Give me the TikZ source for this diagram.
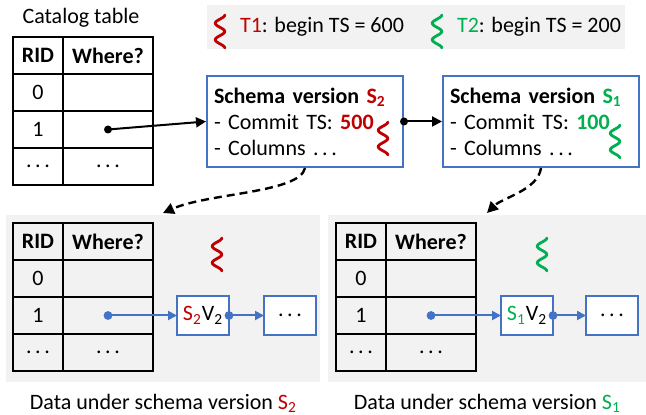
\documentclass[tikz,border=0pt]{standalone}
\usepackage{fontspec}
\setmainfont{Carlito}
\usetikzlibrary{positioning,arrows.meta}
\definecolor{tred}{HTML}{C00000}
\definecolor{tgreen}{HTML}{00B050}
\definecolor{vblue}{HTML}{4472C4}
\definecolor{panelgray}{HTML}{F2F2F2}
\tikzset{pics/squig/.style={code={
  \draw[line width=1.4pt, line cap=round, line join=round] plot[domain=0:1, samples=41, smooth] ({4.8*cos(\x*720)}, {\x*33});}}}
\begin{document}
\begin{tikzpicture}[x=0.5pt, y=-0.5pt, font=\fontsize{11}{13}\selectfont,
  cell/.style = {draw, line width=1.1pt, outer sep=0pt, inner sep=0pt, minimum height=18.5pt},
  ridcell/.style = {cell, minimum width=25pt},
  wherecell/.style = {cell, minimum width=45pt},
  panel/.style = {fill=panelgray, anchor=north west, inner sep=0pt, minimum height=83.5pt},
  schemabox/.style = {draw=vblue, line width=1pt, fill=white, anchor=north west, align=left,
    inner xsep=3.5pt, text width=91pt, minimum height=45.5pt},
  vbox/.style = {draw=vblue, line width=1pt, fill=white, inner sep=0pt, outer sep=0pt,
    minimum width=26pt, minimum height=19.5pt},
  blackarr/.style = {line width=1pt, -{Triangle[length=5pt, width=5pt]}},
  bluearr/.style = {vblue, line width=1pt, -{Triangle[length=4.5pt, width=4.5pt]}},
  dasharr/.style = {line width=1.2pt, dash pattern=on 4pt off 2.5pt, -{Triangle[length=5.5pt, width=5.5pt]}}]
\useasboundingbox (0,0) rectangle (646,415);

% gray backgrounds
\node[panel, minimum width=157pt] (lpanel) at (6,215) {};
\node[panel, minimum width=159pt] (rpanel) at (328,215) {};
\node[panel, minimum width=209pt, minimum height=22pt] (legend) at (207,5) {};

% legend
\pic[tred] at (220,15) {squig};
\node[anchor=west] (t1) at (233,27) {\textcolor{tred}{T1}: begin TS = 600};
\pic[tgreen] at (437,15) {squig};
\node[anchor=west] (t2) at (450,27) {\textcolor{tgreen}{T2}: begin TS = 200};

% tables
\node (catlabel) at (81,18) {Catalog table};
\foreach \t/\px/\py in {cat/13/37, left/13/223, right/336/223}{
  \node[ridcell, anchor=north west] (\t-h) at (\px,\py) {\textbf{RID}};
  \node[wherecell] (\t-hw) [right=0pt of \t-h] {\textbf{Where?}};
  \node[ridcell] (\t-r0) [below=0pt of \t-h] {0};
  \node[wherecell] (\t-w0) [below=0pt of \t-hw] {};
  \node[ridcell] (\t-r1) [below=0pt of \t-r0] {1};
  \node[wherecell] (\t-w1) [below=0pt of \t-w0] {};
  \node[ridcell] (\t-r2) [below=0pt of \t-r1] {.\,.\,.};
  \node[wherecell] (\t-w2) [below=0pt of \t-w1] {.\,.\,.};
}

% schema versions
\node[schemabox] (s2) at (206,75) {\textbf{Schema version \textcolor{tred}{S\textsubscript{2}}}\\- Commit TS: \textcolor{tred}{\textbf{500}}\\- Columns .\,.\,.};
\node[schemabox] (s1) [right=19pt of s2] {\textbf{Schema version \textcolor{tgreen}{S\textsubscript{1}}}\\- Commit TS: \textcolor{tgreen}{\textbf{100}}\\- Columns .\,.\,.};
\pic[tred] at (383,122) {squig};
\pic[tgreen] at (615,125) {squig};

\fill (cat-w1.center) circle[radius=2pt];
\draw[blackarr] (cat-w1.center) -- (s2.west);
\fill (s2.east) circle[radius=2pt];
\draw[blackarr] (s2.east) -- (s1.west);

\coordinate (ltop) at (163,213);
\coordinate (rtop) at (487,213);
\draw[dasharr] (s2.south) .. controls +(-5,25) and +(45,-20) .. (ltop);
\draw[dasharr] (s1.south) .. controls +(-3,22) and +(15,-15) .. (rtop);

% data versions
\pic[tred] at (217,238) {squig};
\pic[tgreen] at (542,238) {squig};
\node[vbox] (lv) [right=12pt of left-w1] {\textcolor{tred}{S\textsubscript{2}}V\textsubscript{2}};
\node[vbox] (lmore) [right=17.5pt of lv] {.\,.\,.};
\node[vbox] (rv) [right=12.5pt of right-w1] {\textcolor{tgreen}{S\textsubscript{1}}V\textsubscript{2}};
\node[vbox] (rmore) [right=16.5pt of rv] {.\,.\,.};
\fill[vblue] (left-w1.center) circle[radius=2.2pt];
\draw[bluearr] (left-w1.center) -- (lv);
\fill[vblue] (lv.east) circle[radius=2.2pt];
\draw[bluearr] (lv.east) -- (lmore);
\fill[vblue] (right-w1.center) circle[radius=2.2pt];
\draw[bluearr] (right-w1.center) -- (rv);
\fill[vblue] (rv.east) circle[radius=2.2pt];
\draw[bluearr] (rv.east) -- (rmore);

\node (lcap) [below=2pt of lpanel] {Data under schema version \textcolor{tred}{S\textsubscript{2}}};
\node (rcap) [below=2pt of rpanel] {Data under schema version \textcolor{tgreen}{S\textsubscript{1}}};
\end{tikzpicture}
\end{document}
